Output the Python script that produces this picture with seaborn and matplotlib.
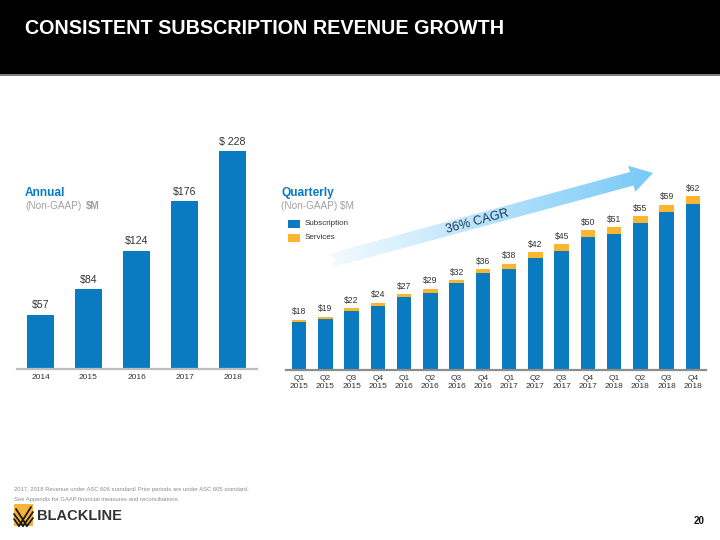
import numpy as np
import pandas as pd
import matplotlib
matplotlib.use("Agg")
import matplotlib.pyplot as plt
import seaborn as sns
from matplotlib.patches import Polygon, Rectangle
from matplotlib.lines import Line2D

# ---------------- data ----------------
years = ["2014", "2015", "2016", "2017", "2018"]
annual = [57, 84, 124, 176, 228]
annual_labels = ["$57", "$84", "$124", "$176", "$ 228"]

quarters = ["Q1\n2015", "Q2\n2015", "Q3\n2015", "Q4\n2015",
            "Q1\n2016", "Q2\n2016", "Q3\n2016", "Q4\n2016",
            "Q1\n2017", "Q2\n2017", "Q3\n2017", "Q4\n2017",
            "Q1\n2018", "Q2\n2018", "Q3\n2018", "Q4\n2018"]
subscription = [17.2, 18.1, 20.9, 22.9, 25.9, 27.6, 30.9, 34.6,
                36.2, 39.9, 42.5, 47.5, 48.5, 52.5, 56.5, 59.2]
services = [0.8, 0.9, 1.1, 1.1, 1.1, 1.4, 1.1, 1.4,
            1.8, 2.1, 2.5, 2.5, 2.5, 2.5, 2.5, 2.8]
quarter_labels = ["$18", "$19", "$22", "$24", "$27", "$29", "$32", "$36",
                  "$38", "$42", "$45", "$50", "$51", "$55", "$59", "$62"]

BLUE = "#0A7BC1"
GOLD = "#FBB52F"
TXT = "#333333"

sns.set_theme(style="white")
plt.rcParams['font.family'] = ['Liberation Sans', 'DejaVu Sans']

W, H = 720, 540
fig = plt.figure(figsize=(7.2, 5.4), dpi=100)
fig.patch.set_facecolor("white")


def rect(x0, y0, x1, y1):
    return [x0 / W, 1 - y1 / H, (x1 - x0) / W, (y1 - y0) / H]


def T(x, y, s, **kw):
    return fig.text(x / W, 1 - y / H, s, **kw)


# ---------------- header ----------------
fig.patches.append(Rectangle((0, 1 - 74 / H), 1, 74 / H, transform=fig.transFigure,
                             facecolor="black", edgecolor="none", zorder=0))
fig.patches.append(Rectangle((0, 1 - 75.5 / H), 1, 1.5 / H, transform=fig.transFigure,
                             facecolor="#7F7F7F", edgecolor="none", zorder=0))
T(25, 28, "CONSISTENT SUBSCRIPTION REVENUE GROWTH", color="white",
  fontsize=14.2, fontweight="bold", va="center", ha="left")

# ---------------- annual chart ----------------
axL = fig.add_axes(rect(16.5, 140, 256.5, 369))
dfa = pd.DataFrame({"year": years, "value": annual})
sns.barplot(data=dfa, x="year", y="value", color=BLUE, saturation=1,
            width=0.56, linewidth=0, ax=axL)
axL.set_xlim(-0.5, len(years) - 0.5)
axL.set_ylim(0, 229 / 0.955)
for i, (v, lab) in enumerate(zip(annual, annual_labels)):
    axL.annotate(lab, (i, v), xytext=(0, 3), textcoords="offset points",
                 ha="center", va="bottom", fontsize=7.6, color=TXT)

# ---------------- quarterly chart ----------------
axR = fig.add_axes(rect(286, 150, 706, 370))
total = [s + v for s, v in zip(subscription, services)]
dfq = pd.DataFrame({"q": quarters, "sub": subscription, "total": total})
sns.barplot(data=dfq, x="q", y="total", color=GOLD, saturation=1,
            width=0.55, linewidth=0, ax=axR)
sns.barplot(data=dfq, x="q", y="sub", color=BLUE, saturation=1,
            width=0.55, linewidth=0, ax=axR)
axR.set_xlim(-0.5, len(quarters) - 0.5)
axR.set_ylim(0, 220 / 2.8)
for i, (v, lab) in enumerate(zip(total, quarter_labels)):
    axR.annotate(lab, (i, v), xytext=(0, 2.5), textcoords="offset points",
                 ha="center", va="bottom", fontsize=6.2, color=TXT)

for ax, sc in ((axL, "#BDBDBD"), (axR, "#8C8C8C")):
    for sp in ("top", "right", "left"):
        ax.spines[sp].set_visible(False)
    ax.spines["bottom"].set_color(sc)
    ax.spines["bottom"].set_linewidth(1.6)
    ax.set_yticks([])
    ax.set_xlabel("")
    ax.set_ylabel("")
    ax.tick_params(axis="x", length=0, pad=3.5, labelsize=6.0, labelcolor=TXT)
    ax.patch.set_alpha(0)
for lab in axR.get_xticklabels():
    lab.set_linespacing(1.25)

# ---------------- panel texts ----------------
T(25, 193, "Annual", color="#0A7BC1", fontsize=8.6, fontweight="bold", va="center")
t1 = T(25, 206, "(Non-GAAP)", color="#A0A0A0", fontsize=7.2, va="center")
fig.canvas.draw()
bb = t1.get_window_extent(renderer=fig.canvas.get_renderer())
T(bb.x1 + 4.5, 206, "$M", color="#A0A0A0", fontsize=7.2, fontweight="bold", va="center")

T(281, 193, "Quarterly", color="#0A7BC1", fontsize=8.6, fontweight="bold", va="center")
T(281, 206, "(Non-GAAP) $M", color="#A0A0A0", fontsize=7.2, va="center")

for (y0, c, lab) in [(220, BLUE, "Subscription"), (233.5, GOLD, "Services")]:
    fig.patches.append(Rectangle((288 / W, 1 - (y0 + 8) / H), 12 / W, 8 / H,
                                 transform=fig.transFigure, facecolor=c,
                                 edgecolor="none"))
    T(305, y0 + 4, lab, color=TXT, fontsize=5.8, va="center")

# ---------------- CAGR arrow ----------------
ov = fig.add_axes([0, 0, 1, 1], zorder=5)
ov.set_xlim(0, W)
ov.set_ylim(H, 0)
ov.axis("off")
ov.patch.set_alpha(0)

tail = np.array([329.0, 261.0])
tip = np.array([653.0, 173.0])
d = tip - tail
L = np.hypot(*d)
u = d / L
n = np.array([u[1], -u[0]])
h, Hh, hl, notch = 7.0, 13.5, 22.0, 7.0
local = [(0, h), (L - hl, h), (L - hl, Hh), (L, 0), (L - hl, -Hh),
         (L - hl, -h), (0, -h), (notch, 0)]
pts = np.array([tail + a * u + b * n for a, b in local])
poly = Polygon(pts, closed=True, facecolor="none", edgecolor="none")
ov.add_patch(poly)

xs = np.linspace(pts[:, 0].min(), pts[:, 0].max(), 300)
t = (xs - xs.min()) / (xs.max() - xs.min())
c0 = np.array([0.96, 0.985, 1.0])
c1 = np.array([0.47, 0.79, 0.97])
grad = c0[None, :] * (1 - t[:, None]) + c1[None, :] * t[:, None]
img = np.tile(grad[None, :, :], (2, 1, 1))
im = ov.imshow(img, extent=[pts[:, 0].min(), pts[:, 0].max(),
                            pts[:, 1].max(), pts[:, 1].min()],
               aspect="auto", interpolation="bilinear")
im.set_clip_path(poly)
ov.set_xlim(0, W)
ov.set_ylim(H, 0)

ang = np.degrees(np.arctan2(-d[1], d[0]))
ov.text(477, 222, "36% CAGR", rotation=ang, rotation_mode="anchor",
        ha="center", va="center", fontsize=9, color="#1B3A5C")

# ---------------- footer ----------------
T(14, 489, "2017, 2018 Revenue under ASC 606 standard/ Prior periods are under ASC 605 standard.",
  color="#8C8C8C", fontsize=4.2, va="center")
T(14, 500, "See Appendix for GAAP financial measures and reconciliations.",
  color="#8C8C8C", fontsize=4.2, va="center")

logo = Rectangle((14, 504), 19, 22, facecolor="#F6B53A", edgecolor="none")
ov.add_patch(logo)
segs = [((14, 514), (23, 526)), ((14, 519), (19, 526)), ((33, 512), (23, 526)),
        ((33, 518), (27, 526)), ((19, 526), (31, 507)), ((27, 526), (16, 509))]
for (a, b) in segs:
    ln = Line2D([a[0], b[0]], [a[1], b[1]], color="#1A1A1A", lw=1.3)
    ln.set_clip_path(logo)
    ov.add_line(ln)
ov.text(37, 516, "BLACKLINE", fontsize=10.5, fontweight="bold", color="#333333",
        va="center", ha="left")
ov.text(704, 521, "20", fontsize=7, fontweight="bold", color="#111111",
        va="center", ha="right")

fig.savefig("out.png", dpi=100)
